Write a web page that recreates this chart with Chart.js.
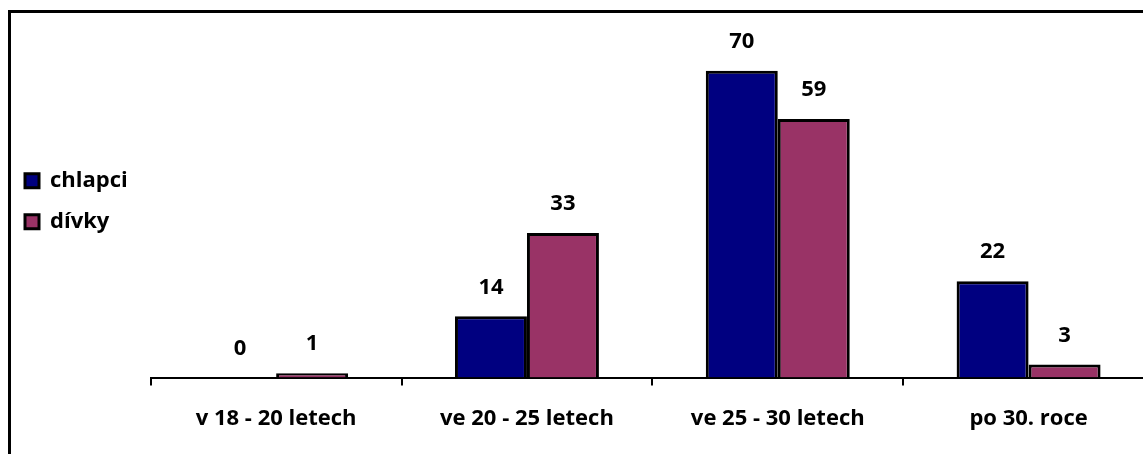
<!DOCTYPE html>
<html>
<head>
<meta charset="utf-8">
<script src="https://cdn.jsdelivr.net/npm/chart.js@4/dist/chart.umd.min.js"></script>
<style>
  html, body { margin: 0; padding: 0; background: #fff; overflow: hidden; }
  #frame { position: absolute; left: 8px; top: 10px; width: 1200px; height: 500px;
           border-left: 3px solid #000; border-top: 3px solid #000; }
  #wrap { position: absolute; left: 0; top: 0; width: 1160px; height: 454px; }
</style>
</head>
<body>
<div id="frame"></div>
<div id="wrap"><canvas id="age-canvas"></canvas></div>
<script>
// Kategorie a hodnoty
const categories = ['v 18 - 20 letech', 've 20 - 25 letech', 've 25 - 30 letech', 'po 30. roce'];
const chlapci = [0, 14, 70, 22];
const divky = [1, 33, 59, 3];

const fontFamily = '"Open Sans", sans-serif';

// Popisky hodnot nad sloupci
const valueLabels = {
    id: 'valueLabels',
    afterDatasetsDraw(chart) {
        const ctx = chart.ctx;
        ctx.save();
        ctx.font = 'bold 22px ' + fontFamily;
        ctx.fillStyle = '#000';
        ctx.textAlign = 'center';
        ctx.textBaseline = 'middle';
        chart.data.datasets.forEach((ds, i) => {
            chart.getDatasetMeta(i).data.forEach((bar, j) => {
                ctx.fillText(ds.data[j], bar.x, bar.y - 29);
            });
        });
        ctx.restore();
    }
};

function createAgeChart(){
    const ctx = document.getElementById('age-canvas').getContext('2d');
    new Chart(ctx, {
        type: 'bar',
        data: {
            labels: categories,
            datasets: [{
                label: 'chlapci',
                data: chlapci,
                backgroundColor: '#000080',
                borderColor: '#000',
                borderWidth: 3,
                borderSkipped: 'bottom'
            }, {
                label: 'dívky',
                data: divky,
                backgroundColor: '#993366',
                borderColor: '#000',
                borderWidth: 3,
                borderSkipped: 'bottom'
            }]
        },
        options: {
            responsive: true,
            maintainAspectRatio: false,
            animation: false,
            layout: { padding: { left: 6, top: 27, right: 6, bottom: 2 } },
            datasets: { bar: { barPercentage: 1, categoryPercentage: 0.574 } },
            scales: {
                x: {
                    grid: { display: true, offset: true, drawOnChartArea: false, drawTicks: true,
                            tickLength: 8, color: '#000', lineWidth: 2 },
                    border: { display: true, color: '#000', width: 2 },
                    ticks: { color: '#000', padding: 20,
                             font: { family: fontFamily, size: 22, weight: 'bold' } }
                },
                y: {
                    display: true, min: 0, max: 80,
                    ticks: { display: false },
                    grid: { display: false },
                    border: { display: false },
                    afterFit(scale) { scale.width = 13; }
                }
            },
            plugins: {
                tooltip: { enabled: false },
                legend: {
                    position: 'left',
                    align: 'start',
                    title: { display: true, text: ' ', padding: { top: 0, bottom: 101 },
                             font: { size: 19 } },
                    labels: {
                        color: '#000',
                        boxWidth: 14, boxHeight: 14, padding: 19,
                        font: { family: fontFamily, size: 22, weight: 'bold' }
                    }
                }
            }
        },
        plugins: [valueLabels]
    });
}

createAgeChart();
</script>
</body>
</html>
